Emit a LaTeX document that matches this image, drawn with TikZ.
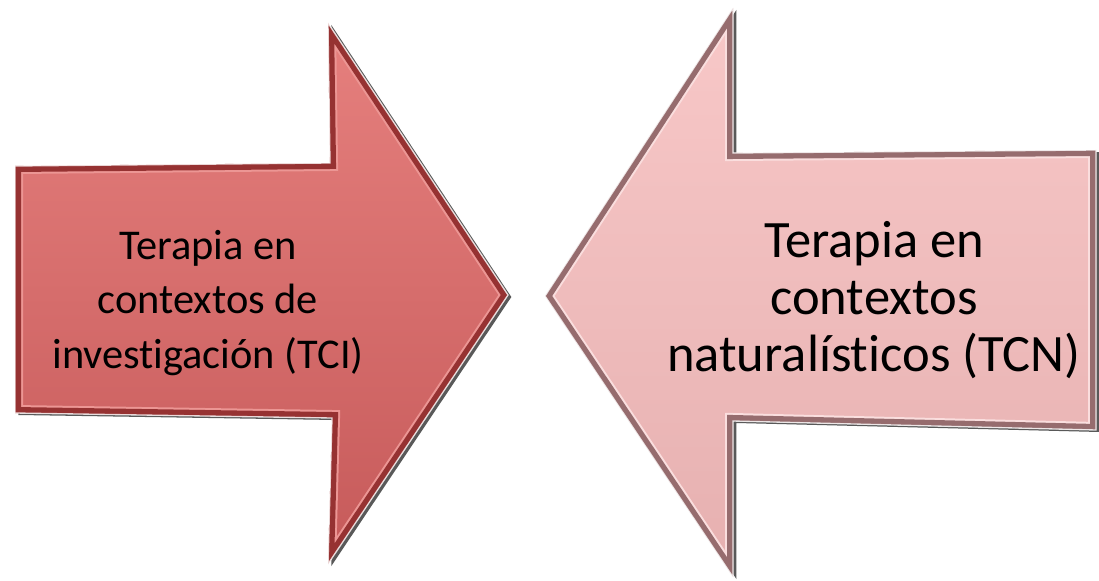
\documentclass[tikz,border=0pt]{standalone}
\usepackage{fontspec}
\setmainfont{Carlito}
\newfontfamily\arrowfont{Carlito}[Ligatures=NoCommon]
\usetikzlibrary{shadows}

\definecolor{tcitop}{RGB}{230,128,126}
\definecolor{tcibottom}{RGB}{198,90,90}
\definecolor{tciedge}{RGB}{150,50,50}
\definecolor{tcilight}{RGB}{236,150,148}
\definecolor{tcntop}{RGB}{248,200,200}
\definecolor{tcnbottom}{RGB}{230,176,176}
\definecolor{tcnedge}{RGB}{150,108,110}
\definecolor{tcnlight}{RGB}{250,222,222}

\tikzset{
    arrow shadow/.style={drop shadow={shadow xshift=2.5pt, shadow yshift=-1.5pt, opacity=.65, fill=black}},
    tci arrow/.style={arrow shadow, top color=tcitop, bottom color=tcibottom},
    tcn arrow/.style={arrow shadow, top color=tcntop, bottom color=tcnbottom},
    inner rim/.style={line width=12pt, line join=miter},
    bevel/.style={line width=9pt, line join=miter},
    highlight/.style={draw=white, opacity=.8, line width=1pt, line join=miter},
    arrow text/.style={align=center, inner sep=0pt, text=black}
}

\begin{document}
\begin{tikzpicture}[x=0.75pt, y=-0.75pt]

    \useasboundingbox (0,0) rectangle (1099,581);

    % --- Coordinates ---
    % Left arrow (TCI), pointing right
    \coordinate (L1) at (15,166);   % shaft top left
    \coordinate (L2) at (330,163);  % shaft top right
    \coordinate (L3) at (328,23);   % head top
    \coordinate (L4) at (508,295);  % tip
    \coordinate (L5) at (328,564);  % head bottom
    \coordinate (L6) at (332,418);  % shaft bottom right
    \coordinate (L7) at (15,413);   % shaft bottom left

    % Right arrow (TCN), pointing left
    \coordinate (R1) at (1096,150); % shaft top right
    \coordinate (R2) at (733,153);  % shaft top left
    \coordinate (R3) at (733,8);    % head top
    \coordinate (R4) at (545,296);  % tip
    \coordinate (R5) at (733,577);  % head bottom
    \coordinate (R6) at (733,421);  % shaft bottom left
    \coordinate (R7) at (1096,430); % shaft bottom right

    \def\tcipath{(L1) -- (L2) -- (L3) -- (L4) -- (L5) -- (L6) -- (L7) -- cycle}
    \def\tcnpath{(R1) -- (R2) -- (R3) -- (R4) -- (R5) -- (R6) -- (R7) -- cycle}

    % --- Arrows ---
    % Filled bodies with shadow
    \path[tci arrow] \tcipath;
    \path[tcn arrow] \tcnpath;

    % Bevelled rims, kept inside each arrow
    \begin{scope}
        \clip \tcipath;
        \draw[inner rim, draw=tcilight] \tcipath;
        \draw[bevel, draw=tciedge] \tcipath;
    \end{scope}
    \begin{scope}
        \clip \tcnpath;
        \draw[inner rim, draw=tcnlight] \tcnpath;
        \draw[bevel, draw=tcnedge] \tcnpath;
    \end{scope}

    % Light outer edge
    \draw[highlight] \tcipath;
    \draw[highlight] \tcnpath;

    % --- Labels ---
    \node[arrow text, font=\arrowfont\fontsize{31.8}{41}\selectfont] (tci) at (208,303)
        {Terapia en\\contextos de\\investigación (TCI)};
    \node[arrow text, font=\arrowfont\fontsize{39.4}{42.75}\selectfont] (tcn) at (874,300)
        {Terapia en\\contextos\\naturalísticos (TCN)};

\end{tikzpicture}
\end{document}
